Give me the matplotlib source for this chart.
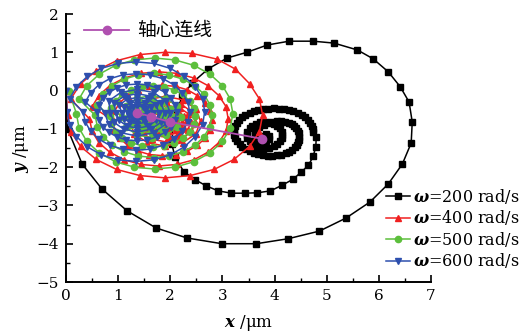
import matplotlib
matplotlib.use("Agg")
import matplotlib.pyplot as plt
from matplotlib.ticker import MultipleLocator

plt.rcParams['font.family'] = ['DejaVu Serif', 'Noto Sans CJK SC']
plt.rcParams['mathtext.fontset'] = 'custom'
plt.rcParams['mathtext.bf'] = 'DejaVu Serif:bold:italic'
plt.rcParams['mathtext.rm'] = 'DejaVu Serif'

# ── Data (µm) ──────────────────────────────────────────────────────────────
# omega = 200 rad/s
x200 = [0.0, 0.03, 0.31, 0.69, 1.17, 1.73, 2.32, 2.99, 3.65, 4.26, 4.86, 5.37, 5.83, 6.18,
        6.45, 6.62, 6.64, 6.58, 6.41, 6.18, 5.89, 5.59, 5.14, 4.74, 4.28, 3.86, 3.47, 3.09,
        2.73, 2.42, 2.23, 2.12, 2.05, 2.03, 2.09, 2.26, 2.48, 2.69, 2.92, 3.17, 3.44, 3.67,
        3.92, 4.15, 4.36, 4.51, 4.65, 4.74, 4.79, 4.80,
        4.74, 4.73, 4.71, 4.68, 4.64, 4.58, 4.52, 4.44, 4.36, 4.27, 4.18, 4.08, 3.98,
        3.88, 3.78, 3.69, 3.60, 3.52, 3.44, 3.38, 3.32, 3.28, 3.25, 3.23, 3.22,
        3.23, 3.25, 3.28, 3.33, 3.38, 3.45, 3.52, 3.60, 3.69, 3.78, 3.87, 3.96, 4.05,
        4.13, 4.21, 4.28, 4.34, 4.39, 4.43, 4.45, 4.47, 4.47, 4.47, 4.45, 4.42, 4.38,
        4.33, 4.27, 4.20, 4.13, 4.04, 3.93,
        3.81, 3.72, 3.64, 3.57, 3.52, 3.48, 3.47, 3.48, 3.52, 3.57,
        3.64, 3.72, 3.81, 3.90, 3.98, 4.05, 4.10, 4.14, 4.15, 4.14, 4.10, 4.05, 3.98, 3.90,
        3.80, 3.70, 3.63, 3.62, 3.66, 3.74, 3.83, 3.90, 3.90, 3.84, 3.78, 3.76]
y200 = [0.0, -1.0, -1.92, -2.57, -3.14, -3.59, -3.85, -4.0, -4.0, -3.87, -3.67, -3.33, -2.91, -2.44,
        -1.92, -1.37, -0.82, -0.30, 0.10, 0.49, 0.83, 1.06, 1.24, 1.29, 1.29, 1.19, 1.00, 0.85,
        0.57, 0.20, -0.15, -0.55, -0.95, -1.40, -1.73, -2.12, -2.33, -2.49, -2.62, -2.68, -2.68, -2.67,
        -2.62, -2.47, -2.31, -2.13, -1.95, -1.72, -1.47, -1.22,
        -1.08, -1.00, -0.92, -0.84, -0.77, -0.70, -0.64, -0.59, -0.54, -0.51, -0.48, -0.47, -0.46,
        -0.47, -0.48, -0.51, -0.54, -0.59, -0.64, -0.70, -0.77, -0.84, -0.92, -1.00, -1.08,
        -1.16, -1.24, -1.32, -1.40, -1.47, -1.53, -1.58, -1.62, -1.66, -1.68, -1.70, -1.70, -1.69,
        -1.67, -1.64, -1.60, -1.55, -1.48, -1.42, -1.35, -1.28, -1.20, -1.12, -1.05, -0.98, -0.92,
        -0.87, -0.84, -0.81, -0.80, -0.80, -0.81,
        -0.82, -0.83, -0.87, -0.92, -0.99, -1.07, -1.16, -1.25, -1.33, -1.40,
        -1.45, -1.49, -1.50, -1.49, -1.45, -1.40, -1.33, -1.25, -1.16, -1.07, -0.99, -0.92, -0.87, -0.84,
        -0.90, -0.95, -1.05, -1.17, -1.27, -1.33, -1.33, -1.27, -1.18, -1.13, -1.18, -1.26]

# omega = 400 rad/s
x400 = [0.0,
        0.03, 0.09, 0.28, 0.58, 0.97, 1.42, 1.90, 2.38, 2.84, 3.22, 3.52, 3.71,
        3.77, 3.71, 3.52, 3.25, 2.90, 2.42, 1.90, 1.42, 0.97, 0.58, 0.28, 0.09,
        0.45, 0.50, 0.63, 0.84, 1.12, 1.44, 1.78, 2.12, 2.45, 2.72, 2.93, 3.07,
        3.11, 3.07, 2.93, 2.72, 2.45, 2.12, 1.78, 1.44, 1.12, 0.84, 0.63, 0.50,
        0.90, 0.93, 1.03, 1.18, 1.38, 1.60, 1.85, 2.10, 2.33, 2.52, 2.67, 2.77,
        2.80, 2.77, 2.67, 2.52, 2.33, 2.10, 1.85, 1.60, 1.38, 1.18, 1.03, 0.93,
        1.22, 1.31, 1.56, 1.90, 2.24, 2.49, 2.58, 2.49, 2.24, 1.90, 1.56, 1.31,
        1.36, 1.44, 1.64, 1.92, 2.20, 2.41, 2.48, 2.41, 2.20, 1.92, 1.64, 1.44,
        1.50, 1.56, 1.73, 1.95, 2.18, 2.34, 2.40, 2.34, 2.18, 1.95, 1.73, 1.56,
        1.61, 1.66, 1.79, 1.96, 2.14, 2.26, 2.31, 2.26, 2.14, 1.96, 1.79, 1.66,
        1.73, 1.76, 1.86, 1.98, 2.11, 2.20, 2.23, 2.20, 2.11, 1.98, 1.86, 1.76,
        1.85, 1.87, 1.92, 1.99, 2.06, 2.11, 2.13, 2.11, 2.06, 1.99, 1.92, 1.87,
        1.93, 2.00]
y400 = [0.0,
        -0.64, -1.07, -1.46, -1.80, -2.06, -2.22, -2.28, -2.22, -2.06, -1.80, -1.46, -1.07,
        -0.64, -0.22, 0.18, 0.56, 0.82, 0.97, 1.00, 0.94, 0.78, 0.52, 0.18, -0.22,
        -0.74, -1.06, -1.36, -1.61, -1.81, -1.93, -1.97, -1.93, -1.81, -1.61, -1.36, -1.06,
        -0.74, -0.42, -0.13, 0.13, 0.33, 0.45, 0.49, 0.45, 0.33, 0.13, -0.13, -0.42,
        -0.78, -1.02, -1.24, -1.43, -1.58, -1.67, -1.70, -1.67, -1.58, -1.43, -1.24, -1.02,
        -0.78, -0.54, -0.32, -0.13, 0.02, 0.11, 0.14, 0.11, 0.02, -0.13, -0.32, -0.54,
        -0.80, -1.13, -1.36, -1.45, -1.36, -1.13, -0.80, -0.48, -0.24, -0.15, -0.24, -0.48,
        -0.81, -1.08, -1.27, -1.34, -1.27, -1.08, -0.81, -0.55, -0.35, -0.28, -0.35, -0.55,
        -0.81, -1.02, -1.17, -1.23, -1.17, -1.02, -0.81, -0.60, -0.45, -0.39, -0.45, -0.60,
        -0.82, -0.99, -1.11, -1.15, -1.11, -0.99, -0.82, -0.66, -0.53, -0.49, -0.53, -0.66,
        -0.82, -0.94, -1.03, -1.06, -1.03, -0.94, -0.82, -0.70, -0.61, -0.58, -0.61, -0.70,
        -0.82, -0.89, -0.93, -0.95, -0.93, -0.89, -0.82, -0.76, -0.71, -0.69, -0.71, -0.76,
        -0.82, -0.82]

# omega = 500 rad/s
x500 = [0.05,
        0.20, 0.25, 0.40, 0.64, 0.95, 1.31, 1.70, 2.09, 2.45, 2.76, 3.00, 3.15,
        3.20, 3.15, 3.00, 2.76, 2.45, 2.09, 1.70, 1.31, 0.95, 0.64, 0.40, 0.25,
        0.56, 0.60, 0.71, 0.89, 1.12, 1.39, 1.68, 1.97, 2.24, 2.47, 2.65, 2.76,
        2.80, 2.76, 2.65, 2.47, 2.24, 1.97, 1.68, 1.39, 1.12, 0.89, 0.71, 0.60,
        0.84, 0.87, 0.95, 1.08, 1.25, 1.45, 1.66, 1.87, 2.07, 2.24, 2.37, 2.45,
        2.48, 2.45, 2.37, 2.24, 2.07, 1.87, 1.66, 1.45, 1.25, 1.08, 0.95, 0.87,
        1.08, 1.16, 1.36, 1.64, 1.92, 2.13, 2.20, 2.13, 1.92, 1.64, 1.36, 1.16,
        1.20, 1.25, 1.42, 1.64, 1.86, 2.02, 2.08, 2.02, 1.86, 1.64, 1.42, 1.25,
        1.30, 1.34, 1.47, 1.63, 1.80, 1.92, 1.96, 1.92, 1.80, 1.63, 1.47, 1.34,
        1.41, 1.44, 1.52, 1.63, 1.74, 1.82, 1.85, 1.82, 1.74, 1.63, 1.52, 1.44,
        1.55, 1.63]
y500 = [0.0,
        -0.60, -0.98, -1.33, -1.63, -1.86, -2.00, -2.05, -2.00, -1.86, -1.63, -1.33, -0.98,
        -0.60, -0.22, 0.13, 0.43, 0.66, 0.80, 0.85, 0.80, 0.66, 0.43, 0.13, -0.22,
        -0.65, -0.94, -1.20, -1.43, -1.60, -1.71, -1.75, -1.71, -1.60, -1.43, -1.20, -0.94,
        -0.65, -0.37, -0.10, 0.13, 0.30, 0.41, 0.45, 0.41, 0.30, 0.13, -0.10, -0.37,
        -0.67, -0.88, -1.07, -1.24, -1.36, -1.44, -1.47, -1.44, -1.36, -1.24, -1.07, -0.88,
        -0.67, -0.46, -0.27, -0.10, 0.02, 0.10, 0.13, 0.10, 0.02, -0.10, -0.27, -0.46,
        -0.68, -0.96, -1.16, -1.23, -1.16, -0.96, -0.68, -0.41, -0.20, -0.13, -0.20, -0.41,
        -0.68, -0.90, -1.05, -1.11, -1.05, -0.90, -0.68, -0.47, -0.31, -0.25, -0.31, -0.47,
        -0.68, -0.84, -0.96, -1.00, -0.96, -0.84, -0.68, -0.52, -0.40, -0.36, -0.40, -0.52,
        -0.68, -0.79, -0.86, -0.89, -0.86, -0.79, -0.68, -0.58, -0.50, -0.47, -0.50, -0.58,
        -0.68, -0.68]

# omega = 600 rad/s
x600 = [0.0,
        0.02, 0.07, 0.20, 0.41, 0.68, 1.00, 1.34, 1.68, 2.00, 2.27, 2.48, 2.62,
        2.66, 2.62, 2.48, 2.27, 2.00, 1.68, 1.34, 1.00, 0.68, 0.41, 0.20, 0.07,
        0.33, 0.37, 0.47, 0.63, 0.84, 1.09, 1.35, 1.61, 1.86, 2.07, 2.23, 2.34,
        2.37, 2.34, 2.23, 2.07, 1.86, 1.61, 1.35, 1.09, 0.84, 0.63, 0.47, 0.37,
        0.60, 0.63, 0.70, 0.82, 0.98, 1.16, 1.36, 1.56, 1.74, 1.90, 2.02, 2.09,
        2.12, 2.09, 2.02, 1.90, 1.74, 1.56, 1.36, 1.16, 0.98, 0.82, 0.70, 0.63,
        0.74, 0.82, 1.05, 1.37, 1.68, 1.91, 2.00, 1.91, 1.68, 1.37, 1.05, 0.82,
        0.85, 0.92, 1.11, 1.37, 1.63, 1.82, 1.89, 1.82, 1.63, 1.37, 1.11, 0.92,
        0.96, 1.02, 1.17, 1.37, 1.58, 1.73, 1.78, 1.73, 1.58, 1.37, 1.17, 1.02,
        1.07, 1.11, 1.22, 1.37, 1.52, 1.63, 1.67, 1.63, 1.52, 1.37, 1.22, 1.11,
        1.18, 1.21, 1.28, 1.37, 1.47, 1.54, 1.56, 1.54, 1.47, 1.37, 1.28, 1.21,
        1.27, 1.37]
y600 = [0.0,
        -0.55, -0.89, -1.20, -1.47, -1.68, -1.81, -1.85, -1.81, -1.68, -1.47, -1.20, -0.89,
        -0.55, -0.21, 0.10, 0.37, 0.58, 0.71, 0.75, 0.71, 0.58, 0.37, 0.10, -0.21,
        -0.56, -0.82, -1.06, -1.27, -1.43, -1.53, -1.56, -1.53, -1.43, -1.27, -1.06, -0.82,
        -0.56, -0.30, -0.06, 0.15, 0.31, 0.41, 0.44, 0.41, 0.31, 0.15, -0.06, -0.30,
        -0.57, -0.76, -0.94, -1.09, -1.21, -1.29, -1.31, -1.29, -1.21, -1.09, -0.94, -0.76,
        -0.57, -0.38, -0.20, -0.05, 0.07, 0.15, 0.17, 0.15, 0.07, -0.05, -0.20, -0.38,
        -0.58, -0.88, -1.10, -1.19, -1.10, -0.88, -0.58, -0.27, -0.05, 0.03, -0.05, -0.27,
        -0.58, -0.83, -1.01, -1.08, -1.01, -0.83, -0.58, -0.33, -0.15, -0.08, -0.15, -0.33,
        -0.58, -0.78, -0.93, -0.98, -0.93, -0.78, -0.58, -0.38, -0.23, -0.18, -0.23, -0.38,
        -0.58, -0.73, -0.83, -0.87, -0.83, -0.73, -0.58, -0.44, -0.33, -0.29, -0.33, -0.44,
        -0.58, -0.67, -0.74, -0.76, -0.74, -0.67, -0.58, -0.49, -0.42, -0.40, -0.42, -0.49,
        -0.58, -0.58]

# shaft-centre line (600, 500, 400, 200 rad/s)
xc = [1.37, 1.63, 2.00, 3.76]
yc = [-0.58, -0.68, -0.82, -1.26]

labels = ['=200 rad/s', '=400 rad/s', '=500 rad/s', '=600 rad/s']

# ── Figure ────────────────────────────────────────────────────────────────
fig = plt.figure(figsize=(5.23, 3.33), dpi=100)
ax = fig.add_axes([66/523, 51/333, 365/523, 268/333])

h1, = ax.plot(x200, y200, color='black', marker='s', linewidth=1.1, markersize=5)
h2, = ax.plot(x400, y400, color='#f02020', marker='^', linewidth=1.1, markersize=4.5)
h3, = ax.plot(x500, y500, color='#5cbf3c', marker='o', linewidth=1.1, markersize=4.5)
h4, = ax.plot(x600, y600, color='#2d4fae', marker='v', linewidth=1.1, markersize=4.5)
hc, = ax.plot(xc, yc, color='#b050b0', marker='o', markersize=6, linewidth=1.3, zorder=5)

ax.set_xlim(0, 7)
ax.set_ylim(-5, 2)
ax.xaxis.set_major_locator(MultipleLocator(1))
ax.yaxis.set_major_locator(MultipleLocator(1))
ax.xaxis.set_minor_locator(MultipleLocator(0.5))
ax.yaxis.set_minor_locator(MultipleLocator(0.5))
ax.tick_params(which='major', direction='in', length=5, width=1.2, labelsize=11, pad=5)
ax.tick_params(which='minor', direction='in', length=3, width=1.0)
for sp in ('top', 'right'):
    ax.spines[sp].set_visible(False)
for sp in ('left', 'bottom'):
    ax.spines[sp].set_linewidth(1.4)

ax.set_xlabel(r'$\mathbf{x}$ /μm', fontsize=12, labelpad=7)
ax.set_ylabel(r'$\mathbf{y}$ /μm', fontsize=12, labelpad=4)

leg1 = ax.legend([hc], ['轴心连线'], loc='upper left', bbox_to_anchor=(0.004, 1.04),
                 frameon=False, handlelength=2.4, handletextpad=0.4,
                 prop={'family': 'Noto Sans CJK SC', 'size': 13.5})
ax.add_artist(leg1)

ax.legend([h1, h2, h3, h4], [r'$\mathbf{\omega}$' + s for s in labels],
          loc='lower left', bbox_to_anchor=(0.86, 0.02), frameon=False,
          handlelength=1.5, handletextpad=0.2, labelspacing=0.15,
          borderaxespad=0, prop={'family': 'DejaVu Serif', 'size': 11.5})

fig.savefig('out.png', dpi=100, facecolor='white')
